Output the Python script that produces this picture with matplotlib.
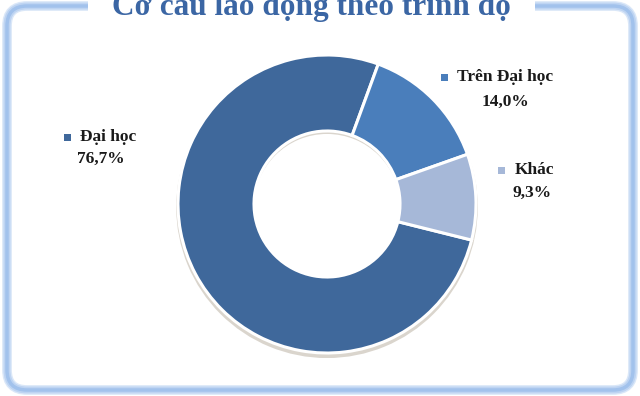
"""Donut chart: co cau lao dong theo trinh do."""

import matplotlib.pyplot as plt
from matplotlib.patches import FancyBboxPatch, Rectangle, Wedge

# ---- Data ----
CATEGORIES = ["Đại học", "Trên Đại học", "Khác"]
SHARES = [76.7, 14.0, 9.3]
SHARE_LABELS = ["76,7%", "14,0%", "9,3%"]
COLORS = ["#3F689B", "#4A7EBB", "#A6B8D8"]
TITLE = "Cơ cấu lao động theo trình độ"

W, H = 640, 396
SERIF = ["Liberation Serif", "DejaVu Serif"]

fig = plt.figure(figsize=(W / 100, H / 100), dpi=100)
fig.patch.set_facecolor("white")

# Background axes in pixel coordinates (frame, title, labels)
bg = fig.add_axes([0, 0, 1, 1])
bg.set_xlim(0, W)
bg.set_ylim(H, 0)
bg.axis("off")

# Rounded frame with a soft blue glow
frame = dict(boxstyle="round,pad=0,rounding_size=20")
for lw, col in [(7, "#DAE7F8"), (5, "#BED4F2"), (2.5, "#A2C2EC")]:
    bg.add_patch(FancyBboxPatch((7, 6), W - 14, H - 12, **frame,
                                facecolor="none", edgecolor=col,
                                linewidth=lw, zorder=1))
bg.add_patch(FancyBboxPatch((7, 6), W - 14, H - 12, **frame,
                            facecolor="white", edgecolor="none", zorder=0.5))

# White plate behind the (cut-off) title
bg.add_patch(Rectangle((88, -2), 447, 20, facecolor="white",
                       edgecolor="none", zorder=2))
bg.text(311, 15, TITLE, ha="center", va="baseline", fontsize=22.5,
        fontweight="bold", color="#3B66A4", family=SERIF, zorder=3)

# Donut axes
cx, cy, r_px = 327, 204, 149
half = 154
pie_ax = fig.add_axes([(cx - half) / W, (H - cy - half) / H,
                       2 * half / W, 2 * half / H])

wedges, _ = pie_ax.pie(
    SHARES,
    colors=COLORS,
    startangle=-14,
    counterclock=False,
    radius=1.0,
    wedgeprops=dict(width=0.51, edgecolor="white", linewidth=2.2),
)
for w in wedges:
    w.set_zorder(2)

# subtle shadow under the ring
pie_ax.add_patch(Wedge((0.0, -0.022), 1.012, 0, 360, width=0.52,
                       facecolor="#DAD5CD", edgecolor="none", zorder=0))

pie_ax.set_xlim(-half / r_px, half / r_px)
pie_ax.set_ylim(-half / r_px, half / r_px)
pie_ax.set_aspect("equal")
pie_ax.axis("off")

# Data labels: marker square + name, percentage below
name_pos = [(108, 137), (505, 77), (534, 170)]
pct_pos = [(101, 159), (505, 102), (532, 193)]
fig.canvas.draw()
for (nx, ny), (px, py), name, pct, col in zip(name_pos, pct_pos, CATEGORIES,
                                              SHARE_LABELS, COLORS):
    t = bg.text(nx, ny, name, ha="center", va="center", fontsize=12.5,
                fontweight="bold", color="#1A1A1A", family=SERIF, zorder=3)
    bb = t.get_window_extent(renderer=fig.canvas.get_renderer())
    bg.add_patch(Rectangle((bb.x0 - 16, ny - 3.5), 7, 7, facecolor=col,
                           edgecolor="none", zorder=3))
    bg.text(px, py, pct, ha="center", va="center", fontsize=12.5,
            fontweight="bold", color="#1A1A1A", family=SERIF, zorder=3)

fig.savefig("out.png", dpi=100)
